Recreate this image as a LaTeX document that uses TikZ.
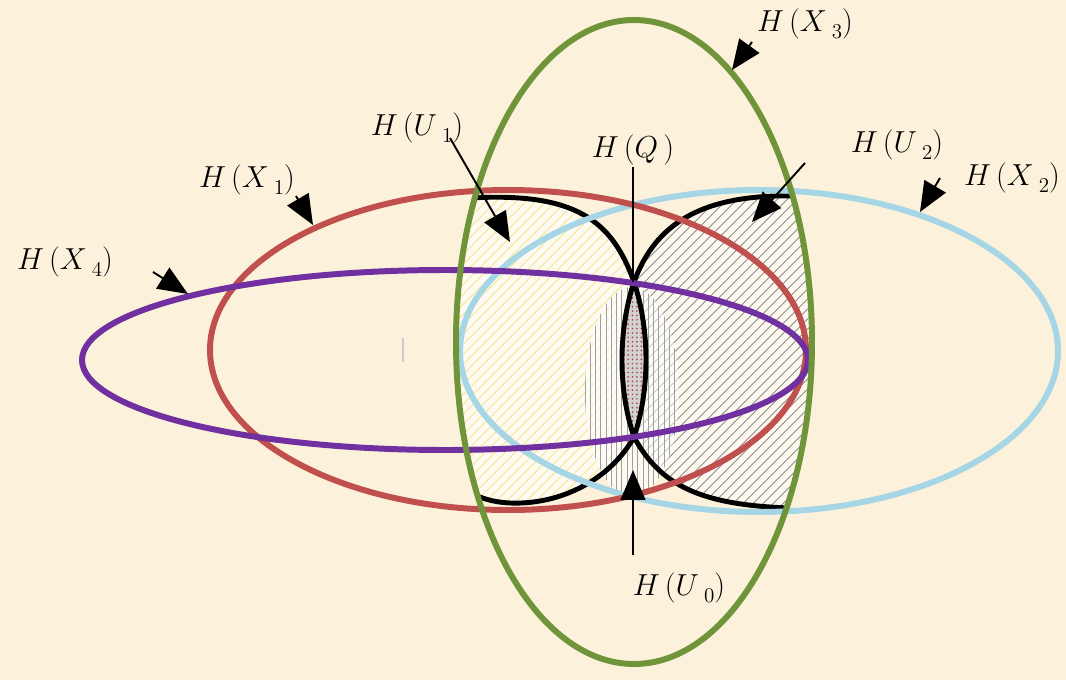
\documentclass[tikz,border=0pt]{standalone}
\usetikzlibrary{arrows.meta,patterns.meta}
\definecolor{bgc}{RGB}{252,242,220}
\definecolor{cgreen}{RGB}{112,148,58}
\definecolor{cred}{RGB}{192,80,77}
\definecolor{ccyan}{RGB}{166,214,230}
\definecolor{cpurple}{RGB}{112,48,160}
\definecolor{cyel}{RGB}{240,228,120}
\newcommand{\lab}[2]{$H\,(#1\,\raisebox{-0.55ex}{\fontsize{13}{13}\selectfont$#2$})$}
\begin{document}
\begin{tikzpicture}[x=0.02cm,y=-0.02cm,
  ell/.style={line width=3.4pt},
  blk/.style={line width=2.8pt,black},
  ptr/.style={line width=1.1pt,-{Triangle[length=17pt,width=14pt]}},
  bar/.style={line width=1.1pt},
  lbl/.style={font=\fontsize{17}{20}\selectfont,inner sep=0pt}]
\useasboundingbox (0,0) rectangle (1066,680);
\fill[bgc] (0,0) rectangle (1066,680);
% hatched regions inside H(X3)
\begin{scope}
  \clip (634,342) ellipse [x radius=178, y radius=322];
  \fill[white!60!bgc] (634,282) .. controls (612,220) and (575,192) .. (470,198) -- (430,198) -- (430,495) -- (465,490) .. controls (478,497) and (490,502) .. (510,503) .. controls (560,505) and (610,480) .. (634,437) .. controls (650,390) and (650,330) .. (634,282) -- cycle;
  \fill[pattern={Lines[angle=45,distance=4pt,line width=0.7pt]},pattern color=cyel!65!white] (634,282) .. controls (612,220) and (575,192) .. (470,198) -- (430,198) -- (430,495) -- (465,490) .. controls (478,497) and (490,502) .. (510,503) .. controls (560,505) and (610,480) .. (634,437) .. controls (650,390) and (650,330) .. (634,282) -- cycle;
  \fill[white!55!bgc] (634,282) .. controls (655,225) and (700,193) .. (800,196) -- (840,196) -- (840,510) -- (790,508) .. controls (700,505) and (660,485) .. (634,437) .. controls (618,390) and (618,330) .. (634,282) -- cycle;
  \fill[pattern={Lines[angle=45,distance=4pt,line width=0.6pt]},pattern color=gray!80] (634,282) .. controls (655,225) and (700,193) .. (800,196) -- (840,196) -- (840,510) -- (790,508) .. controls (700,505) and (660,485) .. (634,437) .. controls (618,390) and (618,330) .. (634,282) -- cycle;
  % vertical band
  \fill[white,opacity=0.55] (632,392) ellipse [x radius=47, y radius=105];
  \fill[pattern={Lines[angle=90,distance=3pt,line width=0.6pt]},pattern color=gray!75] (632,392) ellipse [x radius=47, y radius=105];
  % lens
  \fill[white!65!gray] (634,282) .. controls (650,330) and (650,390) .. (634,437) .. controls (618,390) and (618,330) .. (634,282) -- cycle;
  \fill[pattern={Dots[distance=2.5pt,radius=0.55pt]},pattern color=red!45!gray] (634,282) .. controls (650,330) and (650,390) .. (634,437) .. controls (618,390) and (618,330) .. (634,282) -- cycle;
  % black boundaries of H(U1), H(U2)
  \draw[blk] (470,198) .. controls (575,192) and (612,220) .. (634,282) .. controls (650,330) and (650,390) .. (634,437) .. controls (610,480) and (560,505) .. (510,503) .. controls (490,502) and (478,497) .. (465,490);
  \draw[blk] (800,196) .. controls (700,193) and (655,225) .. (634,282) .. controls (618,330) and (618,390) .. (634,437) .. controls (660,485) and (700,505) .. (790,508);
\end{scope}
% ellipses
\draw[ell,ccyan] (759,351) ellipse [x radius=299, y radius=161];
\draw[ell,cred] (508,350) ellipse [x radius=298, y radius=160];
\draw[ell,cpurple] (445,360) ellipse [x radius=363, y radius=90];
\draw[ell,cgreen] (634,342) ellipse [x radius=178, y radius=322];
% small grey tick
\draw[gray!40,line width=1.5pt] (403,338) -- (403,362);
% labels
\node[lbl] (lX3) at (805,24) {\lab{X}{3}};
\node[lbl] (lU1) at (417,128) {\lab{U}{1}};
\node[lbl] (lQ) at (633,150) {$H\,(Q\,)$};
\node[lbl] (lU2) at (897,145) {\lab{U}{2}};
\node[lbl] (lX2) at (1012,178) {\lab{X}{2}};
\node[lbl] (lX1) at (247,180) {\lab{X}{1}};
\node[lbl] (lX4) at (65,262) {\lab{X}{4}};
\node[lbl] (lU0) at (679,588) {\lab{U}{0}};
% pointer coordinates
\coordinate (tX3) at (752,42);  \coordinate (hX3) at (732,70);
\coordinate (tU1) at (450,138); \coordinate (hU1) at (510,242);
\coordinate (tU2) at (805,163); \coordinate (hU2) at (752,222);
\coordinate (tX2) at (940,178); \coordinate (hX2) at (920,212);
\coordinate (tX1) at (296,196); \coordinate (hX1) at (313,225);
\coordinate (tX4) at (153,272); \coordinate (hX4) at (188,294);
\coordinate (tU0) at (633,555); \coordinate (hU0) at (633,470);
\coordinate (tQ) at (633,167);  \coordinate (hQ) at (633,282);
\draw[ptr] (tX3) -- (hX3);
\draw[ptr] (tU1) -- (hU1);
\draw[ptr] (tU2) -- (hU2);
\draw[ptr] (tX2) -- (hX2);
\draw[ptr] (tX1) -- (hX1);
\draw[ptr] (tX4) -- (hX4);
\draw[ptr] (tU0) -- (hU0);
\draw[bar] (tQ) -- (hQ);
\end{tikzpicture}
\end{document}
